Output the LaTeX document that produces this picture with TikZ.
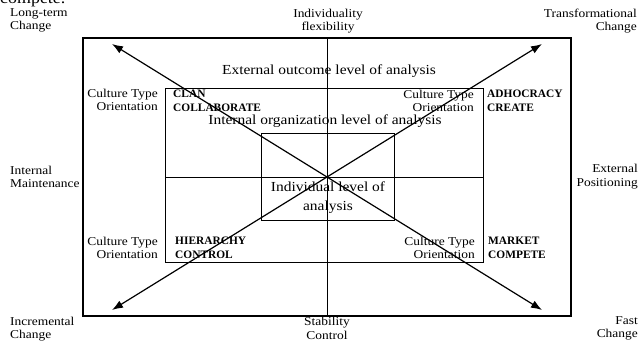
\documentclass[tikz,border=0pt]{standalone}
\usepackage{fontspec}
\setmainfont[FakeStretch=1.12]{Liberation Serif}
\newfontfamily\capsfont{Liberation Serif}
\usetikzlibrary{arrows.meta}

\begin{document}
\begin{tikzpicture}[x=1pt, y=-1pt, inner sep=0pt,
  axis/.style={font=\fontsize{12}{13.5}\selectfont},
  level/.style={font=\fontsize{13.8}{19}\selectfont, align=center},
  orient/.style={font=\fontsize{12}{13.5}\selectfont, align=right, anchor=east},
  culture/.style={font=\capsfont\bfseries\fontsize{11.4}{13.5}\selectfont, align=left, anchor=west},
  frame/.style={line width=0.9pt},
  dir/.style={line width=1.2pt, {Latex[length=11pt,width=8pt]}-{Latex[length=11pt,width=8pt]}}]
  \useasboundingbox (0,0) rectangle (639,346);
  \node[anchor=base west, font=\fontsize{16}{16}\selectfont] (prev) at (0,3) {compete.};

  \draw[line width=1.1pt] (83,38) rectangle (571,316);
  \draw[frame] (165,88) rectangle (483,262);
  \draw[frame] (261,133) rectangle (394,220);
  \coordinate (top) at (327,38);
  \coordinate (bottom) at (327,316);
  \coordinate (left) at (165,177);
  \coordinate (right) at (483,177);
  \draw[frame] (top) -- (bottom);
  \draw[frame] (left) -- (right);

  \coordinate (tl) at (112,44);
  \coordinate (tr) at (542,44);
  \coordinate (bl) at (112,310);
  \coordinate (br) at (542,310);
  \draw[dir] (tl) -- (br);
  \draw[dir] (bl) -- (tr);

  \node[axis, align=left, anchor=west] (longterm) at (10,20.5) {Long-term\\Change};
  \node[axis, align=center] (flex) at (328,21) {Individuality\\flexibility};
  \node[axis, align=right, anchor=east] (transf) at (637,21) {Transformational\\Change};
  \node[axis, align=left, anchor=west] (intmaint) at (10,177) {Internal\\Maintenance};
  \node[axis, align=right, anchor=east] (extpos) at (638,176.5) {External\\Positioning};
  \node[axis, align=left, anchor=west] (incr) at (10,329) {Incremental\\Change};
  \node[axis, align=center] (stab) at (327,328.5) {Stability\\Control};
  \node[axis, align=right, anchor=east] (fast) at (638,328.5) {Fast\\Change};

  \node[level] (outcome) at (329,71) {External outcome level of analysis};
  \node[level] (organization) at (325,121) {Internal organization level of analysis};
  \node[level] (individual) at (328,197.5) {Individual level of\\analysis};

  \node[orient] (orientTL) at (158,100) {Culture Type\\Orientation};
  \node[orient] (orientTR) at (474,101) {Culture Type\\Orientation};
  \node[orient] (orientBL) at (158,248) {Culture Type\\Orientation};
  \node[orient] (orientBR) at (475,248) {Culture Type\\Orientation};

  \node[culture] (clan) at (173,101) {CLAN\\COLLABORATE};
  \node[culture] (adhocracy) at (487,101) {ADHOCRACY\\CREATE};
  \node[culture] (hierarchy) at (175,248) {HIERARCHY\\CONTROL};
  \node[culture] (market) at (488,248) {MARKET\\COMPETE};
\end{tikzpicture}
\end{document}
